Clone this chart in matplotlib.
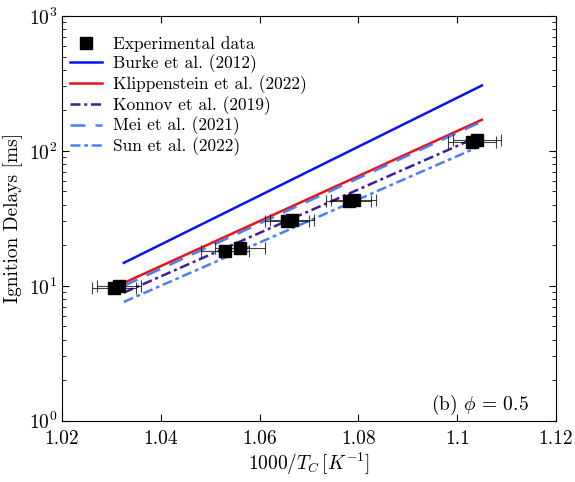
import numpy as np
import matplotlib
matplotlib.use("Agg")
import matplotlib.pyplot as plt

plt.rcParams['font.family'] = 'serif'
plt.rcParams['font.serif'] = ['cmr10']
plt.rcParams['mathtext.fontset'] = 'cm'
plt.rcParams['axes.formatter.use_mathtext'] = True
plt.rcParams['axes.unicode_minus'] = False

# experimental data (1000/T_C, ignition delay in ms, x-uncertainty)
exp_x = [1.0305, 1.0315, 1.0530, 1.0560, 1.0655, 1.0665, 1.0780, 1.0790, 1.1030, 1.1040]
exp_y = [9.7, 9.9, 18.0, 19.0, 30.0, 31.0, 42.5, 43.5, 117, 120]
exp_xerr = [0.0045, 0.0045, 0.0048, 0.0050, 0.0045, 0.0045, 0.0046, 0.0046, 0.0048, 0.0048]

# model predictions at the two ends of the range
model_x = [1.0325, 1.105]
burke = [14.8, 305]
klippenstein = [10.5, 170]
konnov = [8.9, 131]
mei = [10.0, 165]
sun = [7.6, 110]

fig = plt.figure(figsize=(5.75, 4.82), dpi=100)
ax = fig.add_axes([0.108, 0.127, 0.859, 0.840])

ax.errorbar(exp_x, exp_y, xerr=exp_xerr, fmt='none', ecolor='k', elinewidth=0.8,
            capsize=4, capthick=0.8, alpha=0.75, zorder=3)
ax.plot(exp_x, exp_y, 's', color='k', ms=8.5, ls='none', label='Experimental data', zorder=4)

ax.plot(model_x, burke, '-', color='#0a14f0', lw=1.8, label='Burke et al. (2012)')
ax.plot(model_x, klippenstein, '-', color='#f01010', lw=1.8, label='Klippenstein et al. (2022)')
ax.plot(model_x, konnov, color='#3b1f9a', lw=1.8, ls=(0, (4, 1.5, 1.2, 1.5)), label='Konnov et al. (2019)')
ax.plot(model_x, mei, color='#4a7dfa', lw=1.8, ls=(0, (6, 4)), label='Mei et al. (2021)')
ax.plot(model_x, sun, color='#4a7dfa', lw=1.8, ls=(0, (4, 1.5, 1.5, 1.5)), label='Sun et al. (2022)')

ax.set_yscale('log')
ax.set_xlim(1.02, 1.12)
ax.set_ylim(1, 1000)
ax.set_xticks([1.02, 1.04, 1.06, 1.08, 1.1, 1.12])
ax.set_xticklabels(['1.02', '1.04', '1.06', '1.08', '1.1', '1.12'])
ax.tick_params(which='both', direction='in', top=True, right=True, labelsize=14)
ax.tick_params(which='major', length=5)
ax.tick_params(which='minor', length=3)
ax.tick_params(axis='x', pad=7)

ax.set_xlabel(r'$1000/T_C\,[K^{-1}]$', fontsize=14, labelpad=2)
ax.set_ylabel('Ignition Delays [ms]', fontsize=14)

ax.text(1.1145, 1.31, r'(b) $\phi$ = 0.5', fontsize=14, ha='right', va='center')

ax.legend(loc='upper left', bbox_to_anchor=(-0.005, 0.975), frameon=False, fontsize=12.5,
          handlelength=1.85, labelspacing=0.12, borderaxespad=0.2, handletextpad=0.6)

fig.savefig('out.png', dpi=100)
